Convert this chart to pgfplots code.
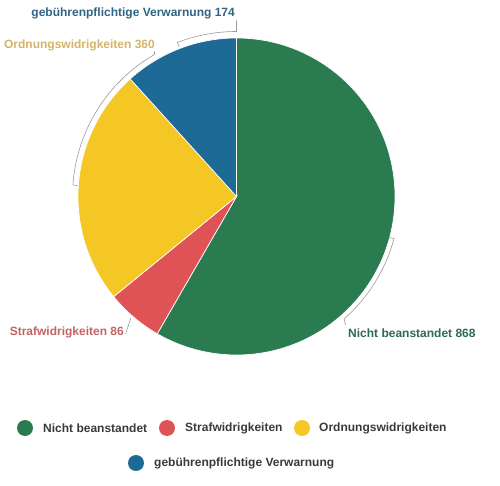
\documentclass[border=0pt]{standalone}
\usepackage{pgfplots}
\pgfplotsset{compat=1.18}
\usepackage{fontspec}
\setmainfont{Liberation Sans}
\definecolor{cgreen}{HTML}{2B7B50}
\definecolor{cred}{HTML}{DF5356}
\definecolor{cyellow}{HTML}{F4C724}
\definecolor{cblue}{HTML}{1E6A96}
\definecolor{lgreen}{HTML}{2D6A55}
\definecolor{lred}{HTML}{C46262}
\definecolor{lyellow}{HTML}{D4B466}
\definecolor{lblue}{HTML}{2E6485}
\definecolor{brk}{HTML}{9A9A9A}
\definecolor{legtext}{HTML}{3A3A3A}
% data
\def\vA{868} % Nicht beanstandet
\def\vB{86}  % Strafwidrigkeiten
\def\vC{360} % Ordnungswidrigkeiten
\def\vD{174} % gebuehrenpflichtige Verwarnung
\begin{document}
\begin{tikzpicture}
\path[use as bounding box] (0,0) rectangle (500bp,486bp);
\begin{axis}[hide axis, scale only axis, width=500bp, height=486bp,
  xmin=0, xmax=500, ymin=0, ymax=486, clip=false]
\pgfmathsetmacro{\tot}{\vA+\vB+\vC+\vD}
\pgfmathsetmacro{\aA}{90-360*(\vA/\tot)}
\pgfmathsetmacro{\aB}{\aA-360*(\vB/\tot)}
\pgfmathsetmacro{\aC}{\aB-360*(\vC/\tot)}
\pgfmathsetmacro{\aD}{\aC-360*(\vD/\tot)}
\coordinate (c) at (axis cs:236.5,289.5);
\def\R{158.5bp}
\filldraw[fill=cgreen, draw=white, line width=0.7pt] (c) -- ([shift={(90:\R)}]c) arc[start angle=90, end angle=\aA, radius=\R] -- cycle;
\filldraw[fill=cred, draw=white, line width=0.7pt] (c) -- ([shift={(\aA:\R)}]c) arc[start angle=\aA, end angle=\aB, radius=\R] -- cycle;
\filldraw[fill=cyellow, draw=white, line width=0.7pt] (c) -- ([shift={(\aB:\R)}]c) arc[start angle=\aB, end angle=\aC, radius=\R] -- cycle;
\filldraw[fill=cblue, draw=white, line width=0.7pt] (c) -- ([shift={(\aC:\R)}]c) arc[start angle=\aC, end angle=\aD, radius=\R] -- cycle;
% brackets
\draw[brk, line width=0.6pt] ([shift={(111:160bp)}]c) -- ([shift={(111:165bp)}]c) arc[start angle=111, end angle=90, radius=165bp] -- ++(0,11bp);
\draw[brk, line width=0.6pt] ([shift={(176:159bp)}]c) -- ([shift={(176:164bp)}]c) arc[start angle=176, end angle=120, radius=164bp] -- ++(0,3bp);
\draw[brk, line width=0.6pt] ([shift={(-15:158bp)}]c) -- ([shift={(-15:163bp)}]c) arc[start angle=-15, end angle=-48.7, radius=163bp] -- ++(1.5bp,-6bp);
\draw[brk, line width=0.6pt] ([shift={(229:161bp)}]c) -- (axis cs:125.5,152);
% labels
\begin{scope}[every node/.style={inner sep=0pt, font=\fontsize{12bp}{14bp}\selectfont\bfseries}]
\node[anchor=east, text=lblue] at (axis cs:235,473) {gebührenpflichtige Verwarnung \vD};
\node[anchor=east, text=lyellow] at (axis cs:155,441) {Ordnungswidrigkeiten \vC};
\node[anchor=east, text=lred] at (axis cs:124,154) {Strafwidrigkeiten \vB};
\node[anchor=west, text=lgreen] at (axis cs:348,153) {Nicht beanstandet \vA};
% legend
\fill[cgreen] (axis cs:25,58) circle[radius=8bp];
\node[anchor=west, text=legtext] at (axis cs:43,58) {Nicht beanstandet};
\fill[cred] (axis cs:167,58) circle[radius=8bp];
\node[anchor=west, text=legtext] at (axis cs:185,58) {Strafwidrigkeiten};
\fill[cyellow] (axis cs:302,58) circle[radius=8bp];
\node[anchor=west, text=legtext] at (axis cs:319,58) {Ordnungswidrigkeiten};
\fill[cblue] (axis cs:136,23) circle[radius=8bp];
\node[anchor=west, text=legtext] at (axis cs:154,23) {gebührenpflichtige Verwarnung};
\end{scope}
\end{axis}
\end{tikzpicture}
\end{document}
